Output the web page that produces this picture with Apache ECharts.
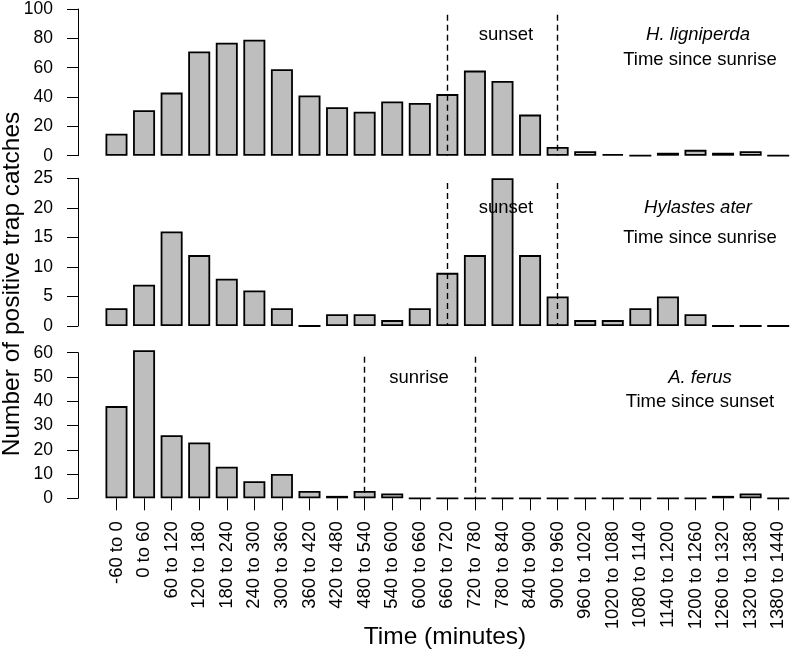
<!DOCTYPE html>
<html>
<head>
<meta charset="utf-8">
<title>Trap catches</title>
<script src="https://cdn.jsdelivr.net/npm/echarts@6/dist/echarts.min.js"></script>
<style>
  html, body {margin:0;padding:0;background:#fff;}
  #chart {width:792px;height:658px;}
</style>
</head>
<body>
<div id="chart"></div>
<script>
// time bins (minutes)
var cats = ['-60 to 0', '0 to 60', '60 to 120', '120 to 180', '180 to 240', '240 to 300',
  '300 to 360', '360 to 420', '420 to 480', '480 to 540', '540 to 600', '600 to 660',
  '660 to 720', '720 to 780', '780 to 840', '840 to 900', '900 to 960', '960 to 1020',
  '1020 to 1080', '1080 to 1140', '1140 to 1200', '1200 to 1260', '1260 to 1320',
  '1320 to 1380', '1380 to 1440'];

// positive trap catches per species
var hLigniperda = [15, 31, 43, 71, 77, 79, 59, 41, 33, 30, 37, 36, 42, 58, 51, 28, 6, 3, 1, 0, 2, 4, 2, 3, 0];
var hylastesAter = [3, 7, 16, 12, 8, 6, 3, 0, 2, 2, 1, 3, 9, 12, 25, 12, 5, 1, 1, 3, 5, 2, 0, 0, 0];
var aFerus = [38, 61, 26, 23, 13, 7, 10, 3, 1, 3, 2, 0, 0, 0, 0, 0, 0, 0, 0, 0, 0, 0, 1, 2, 0];

// y axis ticks
var yTicks1 = [0, 20, 40, 60, 80, 100];
var yTicks2 = [0, 5, 10, 15, 20, 25];
var yTicks3 = [0, 10, 20, 30, 40, 50, 60];

// dashed markers (bin index) and their top value
var marks1 = [12, 16], marksTop1 = 96;
var marks2 = [12, 16], marksTop2 = 24.2;
var marks3 = [9, 13], marksTop3 = 58.3;

var FONT = 'Liberation Sans, Arial, Helvetica, sans-serif';
var chart = echarts.init(document.getElementById('chart'), null, {renderer: 'canvas'});

function yAx(idx, ticks) {
  return {
    type: 'value', gridIndex: idx, min: ticks[0], max: ticks[ticks.length - 1],
    interval: ticks[1] - ticks[0], offset: 24.7,
    axisLine: {show: true, lineStyle: {color: '#000', width: 1}},
    axisTick: {show: true, length: 11, lineStyle: {color: '#000', width: 1}},
    axisLabel: {color: '#000', fontSize: 17.5, fontFamily: FONT, margin: 25},
    splitLine: {show: false}
  };
}
function xAx(idx, showLabels) {
  return {
    type: 'category', gridIndex: idx, data: cats, boundaryGap: true,
    axisLine: {show: false},
    axisTick: {show: showLabels, alignWithLabel: true, length: 12, lineStyle: {color: '#000', width: 1}},
    axisLabel: {show: showLabels, rotate: 90, interval: 0, color: '#000', fontSize: 18.5, fontFamily: FONT, margin: 23}
  };
}
function barSeries(idx, data, marks, top) {
  return {
    type: 'bar', xAxisIndex: idx, yAxisIndex: idx, data: data, barWidth: 22, clip: false,
    itemStyle: {color: '#bebebe', borderColor: '#000', borderWidth: 1.8},
    emphasis: {disabled: true},
    markLine: {
      silent: true, symbol: 'none', animation: false,
      label: {show: false},
      lineStyle: {color: '#000', width: 1.4, type: [6, 4]},
      data: marks.map(function (m) { return [{coord: [m, top]}, {coord: [m, 0]}]; })
    }
  };
}
function txt(x, y, s, italic) {
  return {
    type: 'text', x: x, y: y, z: 100,
    style: {text: s, fill: '#000', font: (italic ? 'italic ' : '') + '18.5px ' + FONT, textAlign: 'center', textVerticalAlign: 'middle'}
  };
}

var option = {
  animation: false,
  backgroundColor: '#fff',
  grid: [
    {left: 102.7, width: 689.5, top: 6, height: 149.7},
    {left: 102.7, width: 689.5, top: 178.3, height: 147.7},
    {left: 102.7, width: 689.5, top: 352.7, height: 145.6}
  ],
  xAxis: [xAx(0, false), xAx(1, false), xAx(2, true)],
  yAxis: [yAx(0, yTicks1), yAx(1, yTicks2), yAx(2, yTicks3)],
  series: [
    barSeries(0, hLigniperda, marks1, marksTop1),
    barSeries(1, hylastesAter, marks2, marksTop2),
    barSeries(2, aFerus, marks3, marksTop3)
  ],
  graphic: [
    txt(506, 35, 'sunset'),
    txt(698, 35, 'H. ligniperda', true),
    txt(700, 60, 'Time since sunrise'),
    txt(506, 208, 'sunset'),
    txt(698, 208, 'Hylastes ater', true),
    txt(700, 238, 'Time since sunrise'),
    txt(419, 378, 'sunrise'),
    txt(700, 378, 'A. ferus', true),
    txt(700, 402, 'Time since sunset'),
    {
      type: 'text', x: 445, y: 637, z: 100,
      style: {text: 'Time (minutes)', fill: '#000', font: '24.5px ' + FONT, textAlign: 'center', textVerticalAlign: 'middle'}
    },
    {
      type: 'text', x: 12, y: 284, rotation: Math.PI / 2, z: 100,
      style: {text: 'Number of positive trap catches', fill: '#000', font: '24.5px ' + FONT, textAlign: 'center', textVerticalAlign: 'middle'}
    }
  ]
};
chart.setOption(option);
</script>
</body>
</html>
